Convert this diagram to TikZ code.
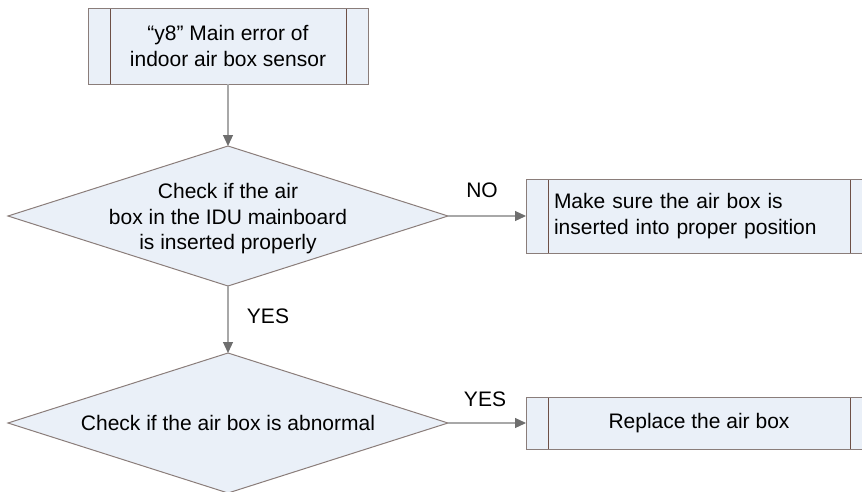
\documentclass[tikz,border=0pt]{standalone}
\usepackage{fontspec}
\setmainfont{Liberation Sans}
\usetikzlibrary{shapes.geometric,arrows.meta}
\definecolor{boxfill}{HTML}{EAF0F8}
\definecolor{boxline}{HTML}{8A7D7A}
\definecolor{innerc}{HTML}{6E5046}
\definecolor{connc}{HTML}{A8A8A8}
\definecolor{tipc}{HTML}{6E6E6E}
\begin{document}
\begin{tikzpicture}[x=1pt,y=-1pt,
  every node/.style={font=\fontsize{21}{25.5}\selectfont, inner sep=0pt, outer sep=0pt},
  procbox/.style={rectangle, draw=boxline, fill=boxfill, line width=1pt, align=center,
    path picture={\draw[innerc, line width=1pt]
      ([xshift=22pt]path picture bounding box.north west) -- ([xshift=22pt]path picture bounding box.south west)
      ([xshift=-22pt]path picture bounding box.north east) -- ([xshift=-22pt]path picture bounding box.south east);}},
  decision/.style={diamond, draw=boxline, fill=boxfill, line width=1pt, minimum width=440pt, minimum height=140pt},
  dectext/.style={align=center},
  conn/.style={draw=connc, line width=1.2pt, -{Triangle[length=11pt,width=10pt,color=tipc]}},
  lbl/.style={}
]
\useasboundingbox (0,0) rectangle (862,491);

\node[procbox, minimum width=280pt, minimum height=76pt] (b1) at (228,46) {“y8” Main error of\\indoor air box sensor};

\node[decision] (d1) at (228,216) {};
\node[dectext] (t1) at (228,219) {Check if the air\\box in the IDU mainboard\\is inserted properly};

\node[procbox, minimum width=346pt, minimum height=74pt, align=left, text width=290pt, inner xsep=28pt] (b2) at (699,216) {Make sure the air box is\\inserted into proper position};

\node[decision] (d2) at (228,423) {};
\node[dectext] (t2) at (228,423) {Check if the air box is abnormal};

\node[procbox, minimum width=346pt, minimum height=52pt] (b3) at (699,423) {Replace the air box};

\draw[conn] (b1) -- (d1);
\draw[conn] (d1) -- (b2);
\draw[conn] (d1) -- (d2);
\draw[conn] (d2) -- (b3);

\node[lbl] (lno) at (482,190) {NO};
\node[lbl] (lyes1) at (268,316) {YES};
\node[lbl] (lyes2) at (485,399) {YES};
\end{tikzpicture}
\end{document}
